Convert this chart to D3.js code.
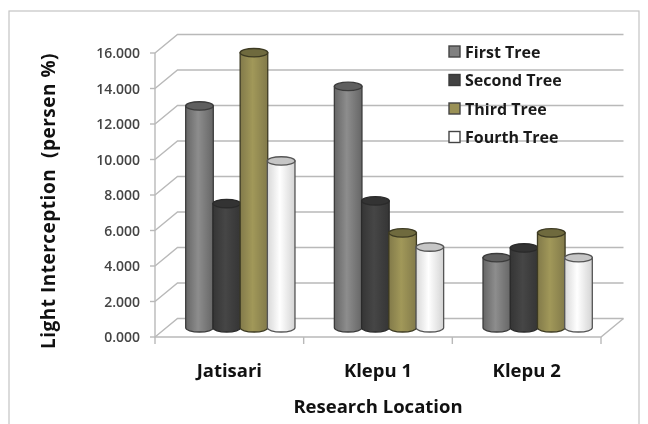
<!DOCTYPE html>
<html><head><meta charset="utf-8">
<script src="https://cdn.jsdelivr.net/npm/d3@7/dist/d3.min.js"></script>
<style>html,body{margin:0;padding:0;background:#fff}svg{display:block;filter:blur(0.6px)}text{font-family:"Open Sans",Lato,sans-serif;white-space:pre}</style>
</head><body><svg id="c" width="648" height="424"></svg>
<script>
const categories=["Jatisari","Klepu 1","Klepu 2"];
const seriesNames=["First Tree","Second Tree","Third Tree","Fourth Tree"];
const firstTree=[12.5,13.6,3.95];
const secondTree=[7.0,7.15,4.5];
const thirdTree=[15.5,5.35,5.35];
const fourthTree=[9.4,4.55,3.95];
const seriesValues=[firstTree,secondTree,thirdTree,fourthTree];
const tickValues=[0,2,4,6,8,10,12,14,16];
const yTitle="Light Interception  (persen %)";
const xTitle="Research Location";
const palettes=[
 {stops:["#666","#8d8d8d","#666"],top:"#5f5f5f",line:"#3c3c3c"},
 {stops:["#353535","#464646","#353535"],top:"#333333",line:"#2a2a2a"},
 {stops:["#827a4a","#a19859","#827a4a"],top:"#6f6a3e",line:"#3d3a22"},
 {stops:["#d8d8d8","#ffffff","#d4d4d4"],top:"#c6c6c6",line:"#555"}
];
const depthX=22.5,depthY=-18.5;
const svg=d3.select("#c");
const x=d3.scaleBand().domain(categories).range([155,601]);
const y=d3.scaleLinear().domain([0,16]).range([337,53]);
const inner=d3.scaleBand().domain(d3.range(4)).range([0,x.bandwidth()]).paddingOuter(0.73).paddingInner(0);
const defs=svg.append("defs");
palettes.forEach((p,i)=>{
 const g=defs.append("linearGradient").attr("id","g"+i);
 p.stops.forEach((s,k)=>g.append("stop").attr("offset",[0,0.45,1][k]).attr("stop-color",s));
});
svg.append("rect").attr("x",9).attr("y",11).attr("width",630).attr("height",430).attr("fill","#fff").attr("stroke","#c4c4c4").attr("stroke-width",1.2);

const grid="#b9b9b9";
const gridG=svg.append("g").attr("fill","none").attr("stroke",grid).attr("stroke-width",1.4);
tickValues.forEach(t=>{
 gridG.append("path").attr("d",d3.line()([[155,y(t)],[155+depthX,y(t)+depthY],[601+depthX,y(t)+depthY]]));
});
gridG.append("path").attr("d",d3.line()([[155,y(16)],[155,y(0)],[601,y(0)],[601+depthX,y(0)+depthY]]));
tickValues.forEach(t=>gridG.append("line").attr("x1",150).attr("x2",155).attr("y1",y(t)).attr("y2",y(t)));
[0,1,2,3].forEach(i=>{const px=i<3?x(categories[i]):601;gridG.append("line").attr("x1",px).attr("x2",px).attr("y1",337).attr("y2",344);});

svg.append("g").selectAll("text").data(tickValues).join("text")
 .attr("x",140).attr("y",d=>y(d)).attr("dy","0.36em").attr("text-anchor","end")
 .attr("font-size",14).attr("font-weight",600).attr("fill","#444").text(d=>d3.format(".3f")(d));

const ly=[52,80.5,109,137.5];
const leg=svg.append("g");
seriesNames.forEach((n,i)=>{
 leg.append("rect").attr("x",449).attr("y",ly[i]-6).attr("width",11).attr("height",11)
  .attr("fill",["#808080","#434343","#9a9156","#fff"][i]).attr("stroke",["#444","#3a3a3a","#444","#444"][i]).attr("stroke-width",1.4);
 leg.append("text").attr("x",465).attr("y",ly[i]).attr("dy","0.36em").attr("font-size",16).attr("font-weight",700).attr("fill","#1a1a1a").text(n);
});

const rx=13.8,ry=4.2,offX=11,offY=-9.2;
const bars=svg.append("g");
categories.forEach((c,ci)=>{
 seriesValues.forEach((vals,si)=>{
  const cx=x(c)+inner(si)+inner.bandwidth()/2+offX;
  const yTop=y(vals[ci])+offY, yBase=y(0)+offY;
  const p=palettes[si];
  const g=bars.append("g");
  g.append("path").attr("d",`M${cx-rx},${yTop}L${cx-rx},${yBase}A${rx},${ry} 0 0 0 ${cx+rx},${yBase}L${cx+rx},${yTop}Z`)
   .attr("fill",`url(#g${si})`).attr("stroke",p.line).attr("stroke-width",1.3);
  g.append("ellipse").attr("cx",cx).attr("cy",yTop).attr("rx",rx).attr("ry",ry)
   .attr("fill",p.top).attr("stroke",p.line).attr("stroke-width",1.3);
 });
});

svg.append("g").selectAll("text").data(categories).join("text")
 .attr("x",d=>x(d)+x.bandwidth()/2).attr("y",370).attr("dy","0.36em").attr("text-anchor","middle")
 .attr("font-size",18.5).attr("font-weight",700).attr("fill","#111").text(d=>d);
svg.append("text").attr("x",378).attr("y",406).attr("dy","0.36em").attr("text-anchor","middle")
 .attr("font-size",18.5).attr("font-weight",700).attr("fill","#111").text(xTitle);
svg.append("text").attr("transform","translate(48,201) rotate(-90)").attr("dy","0.36em").attr("text-anchor","middle")
 .attr("font-size",19).attr("letter-spacing",0.5).attr("font-weight",700).attr("fill","#111").text(yTitle);
</script></body></html>
